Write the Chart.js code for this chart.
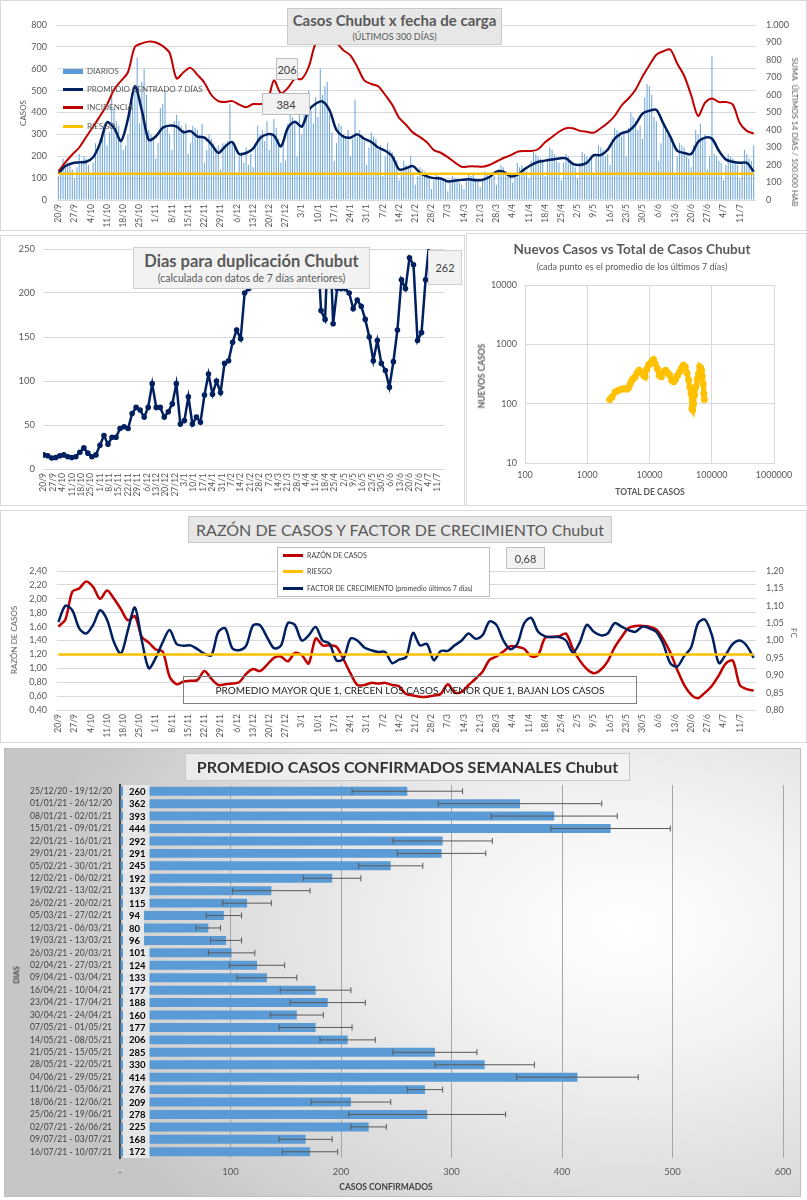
<!DOCTYPE html>
<html>
<head>
<meta charset="utf-8">
<title>Chubut</title>
<script src="https://cdn.jsdelivr.net/npm/chart.js@4.4.1/dist/chart.umd.min.js"></script>
<style>
  body { margin: 0; width: 807px; height: 1200px; position: relative; background: #fff; overflow: hidden;
         font-family: Lato, "Open Sans", sans-serif; color: #595959; }
  .frame { position: absolute; box-sizing: border-box; border: 1px solid #d9d9d9; }
  canvas { position: absolute; }
  .t { position: absolute; white-space: nowrap; transform: translate(-50%, -50%); line-height: 1; }
  .box { position: absolute; box-sizing: border-box; border: 1px solid #bfbfbf; background: #f2f2f2;
         display: flex; flex-direction: column; align-items: center; justify-content: center; white-space: nowrap; line-height: 1; }
  .li { position: absolute; display: flex; align-items: center; white-space: nowrap; line-height: 1; }
  .li span { display: inline-block; width: 20px; margin-right: 4px; }
</style>
</head>
<body>

<!-- 1: casos diarios -->
<div class="frame" style="left:0;top:0;width:807px;height:231px"></div>
<canvas id="cCasos" width="807" height="231" style="left:0;top:0"></canvas>
<div class="box" style="left:287px;top:8px;width:215px;height:37px;background:#e7e7e7;border-color:#c9c9c9">
  <div style="font-weight:700;font-size:15px">Casos Chubut x fecha de carga</div>
  <div style="font-size:9px;margin-top:4px">(ÚLTIMOS 300 DÍAS)</div>
</div>
<div class="li" style="left:63px;top:67px;font-size:8px"><span style="height:5px;background:#5b9bd5"></span>DIARIOS</div>
<div class="li" style="left:63px;top:85px;font-size:8px"><span style="height:3px;background:#002060"></span>PROMEDIO CENTRADO 7 DÍAS</div>
<div class="li" style="left:63px;top:103px;font-size:8px"><span style="height:3px;background:#c00000"></span>INCIDENCIA</div>
<div class="li" style="left:63px;top:122px;font-size:8px"><span style="height:3px;background:#ffc000"></span>RIESGO</div>
<div class="box" style="left:276px;top:58px;width:22px;height:22px;font-size:11px;color:#404040">206</div>
<div class="box" style="left:262px;top:93px;width:48px;height:22px;font-size:11px;color:#404040">384</div>
<div class="t" style="left:23px;top:113px;font-size:8px;transform:translate(-50%,-50%) rotate(-90deg)">CASOS</div>
<div class="t" style="left:795px;top:132px;font-size:8px;transform:translate(-50%,-50%) rotate(90deg)">SUMA&nbsp; ÚLTIMOS 14 DÍAS / 100.000 HAB</div>

<!-- 2: dias para duplicacion -->
<div class="frame" style="left:0;top:235px;width:465px;height:271px"></div>
<canvas id="cDup" width="465" height="272" style="left:0;top:234px"></canvas>
<div class="box" style="left:133px;top:247px;width:237px;height:42px;border-color:#d0d0d0">
  <div style="font-weight:700;font-size:16.5px">Dias para duplicación Chubut</div>
  <div style="font-size:10.5px;margin-top:4px">(calculada con datos de 7 días anteriores)</div>
</div>
<div class="box" style="left:428px;top:250px;width:34px;height:35px;border-color:#d0d0d0;font-size:11px;color:#404040">262</div>

<!-- 3: nuevos vs total -->
<div class="frame" style="left:466px;top:233px;width:341px;height:273px"></div>
<canvas id="cLog" width="339" height="272" style="left:468px;top:234px"></canvas>
<div class="t" style="left:632px;top:250px;font-size:13.5px;font-weight:700">Nuevos Casos vs Total de Casos Chubut</div>
<div class="t" style="left:632px;top:266px;font-size:9px">(cada punto es el promedio de los últimos 7 días)</div>
<div class="t" style="left:482px;top:376px;font-size:8.5px;font-weight:700;transform:translate(-50%,-50%) rotate(-90deg)">NUEVOS CASOS</div>
<div class="t" style="left:650px;top:492px;font-size:8.5px;font-weight:700">TOTAL DE CASOS</div>

<!-- 4: razon de casos y FC -->
<div class="frame" style="left:0;top:510px;width:807px;height:233px"></div>
<canvas id="cRazon" width="807" height="232" style="left:0;top:511px"></canvas>
<div class="box" style="left:188px;top:516px;width:424px;height:27px;background:#e7e7e7;border-color:#c9c9c9;font-size:16px">RAZÓN DE CASOS Y FACTOR DE CRECIMIENTO Chubut</div>
<div class="box" style="left:277px;top:547px;width:213px;height:50px;background:#fff"></div>
<div class="li" style="left:283px;top:552px;font-size:7px;color:#404040"><span style="height:3px;background:#c00000"></span>RAZÓN DE CASOS</div>
<div class="li" style="left:283px;top:568px;font-size:7px;color:#404040"><span style="height:3px;background:#ffc000"></span>RIESGO</div>
<div class="li" style="left:283px;top:585px;font-size:7px;color:#404040"><span style="height:3px;background:#002060"></span>FACTOR DE CRECIMIENTO (promedio últimos 7 días)</div>
<div class="box" style="left:506px;top:547px;width:39px;height:22px;font-size:11px;color:#404040">0,68</div>
<div class="box" style="left:183px;top:676px;width:454px;height:28px;background:transparent;border-color:#7f7f7f;font-size:10px;color:#1a1a1a">PROMEDIO MAYOR QUE 1, CRECEN LOS CASOS, MENOR QUE 1, BAJAN LOS CASOS</div>
<div class="t" style="left:14px;top:640px;font-size:8px;transform:translate(-50%,-50%) rotate(-90deg)">RAZÓN DE CASOS</div>
<div class="t" style="left:794px;top:633px;font-size:8px;transform:translate(-50%,-50%) rotate(90deg)">FC</div>

<!-- 5: promedio semanal -->
<div class="frame" style="left:4px;top:748px;width:797px;height:449px;border-color:#bfbfbf;
  background:radial-gradient(ellipse 75% 90% at 78% 40%, #ffffff 0%, #f3f3f3 30%, #d8d8d8 75%, #c6c6c6 100%)"></div>
<canvas id="cSemanal" width="795" height="447" style="left:5px;top:749px"></canvas>
<div class="box" style="left:185px;top:753px;width:445px;height:28px;background:rgba(245,245,245,0.7);border-color:#c9c9c9;font-size:16px;font-weight:700;color:#333">PROMEDIO CASOS CONFIRMADOS SEMANALES Chubut</div>
<div class="t" style="left:17px;top:975px;font-size:7.5px;font-weight:700;color:#404040;transform:translate(-50%,-50%) rotate(-90deg)">DIAS</div>
<div class="t" style="left:386px;top:1187px;font-size:8.5px;font-weight:700;color:#404040">CASOS CONFIRMADOS</div>

<script>
// etiquetas semanales del eje x (20/9/2020 = dia 0)
const ETIQUETAS_X = ['20/9','27/9','4/10','11/10','18/10','25/10','1/11','8/11','15/11','22/11','29/11',
  '6/12','13/12','20/12','27/12','3/1','10/1','17/1','24/1','31/1','7/2','14/2','21/2','28/2','7/3',
  '14/3','21/3','28/3','4/4','11/4','18/4','25/4','2/5','9/5','16/5','23/5','30/5','6/6','13/6',
  '20/6','27/6','4/7','11/7'];

// las series de lineas estan leidas cada 3 dias
const PASO = 3;

// casos diarios, una fila por semana
const DIARIOS = [
  110,130,190,150,170,160,140,
  100,150,210,180,200,190,160,
  120,170,260,240,280,300,330,
  250,310,480,420,360,340,280,
  230,250,300,420,450,500,650,
  350,540,600,480,320,300,280,
  190,260,420,440,500,330,300,
  230,360,390,360,340,320,350,
  210,260,340,330,320,300,350,
  170,230,300,280,260,240,250,
  140,260,260,270,440,260,260,
  120,200,220,170,240,160,210,
  150,260,340,300,320,270,360,
  230,300,370,330,280,170,260,
  180,350,410,380,360,200,430,
  300,420,470,500,410,350,470,
  380,600,480,520,540,390,310,
  180,260,350,340,300,280,320,
  200,280,460,290,320,300,270,
  160,240,310,290,280,230,250,
  110,200,260,230,220,200,180,
  90,130,180,160,150,200,120,
  70,110,150,140,130,120,100,
  50,90,120,110,100,100,90,
  40,80,110,100,90,80,70,
  50,90,120,110,120,100,90,
  60,90,130,120,110,100,110,
  70,140,160,150,130,110,120,
  80,120,170,150,160,140,130,
  100,180,220,210,200,190,180,
  110,190,240,230,210,180,170,
  90,170,210,200,180,160,150,
  100,170,220,210,200,180,190,
  120,200,250,240,230,200,210,
  160,280,330,320,310,290,310,
  200,330,400,380,360,320,340,
  280,470,530,520,480,380,360,
  180,260,340,320,300,280,250,
  120,200,260,250,240,200,190,
  150,250,320,300,350,280,300,
  140,200,660,210,200,180,170,
  90,160,210,200,190,170,160,
  100,170,230,210,190,180,250
];

const PROMEDIO_7D = [
  120,155,168,172,175,195,260,355,330,270,
  370,520,410,275,290,330,340,335,310,315,
  290,285,255,215,245,265,210,215,235,283,
  300,295,245,330,358,335,410,440,450,410,
  320,290,285,300,280,265,240,225,200,140,
  145,155,125,108,100,98,85,88,92,95,
  90,92,105,130,130,108,115,140,160,175,
  180,185,190,190,165,160,170,205,205,230,
  280,305,315,345,395,408,412,350,290,225,
  215,210,265,285,280,225,185,175,170,170,
  130
];

// suma ultimos 14 dias / 100.000 hab
const INCIDENCIA = [
  163,215,260,300,360,420,480,545,630,680,
  730,875,895,905,900,880,840,695,730,755,
  715,670,600,565,560,565,545,530,548,548,
  555,683,610,640,692,692,760,894,920,930,
  900,855,827,760,683,663,650,600,545,470,
  430,385,360,330,285,270,245,215,190,192,
  192,190,200,220,240,255,275,280,280,290,
  330,360,390,410,410,395,390,385,410,440,
  480,540,580,630,705,770,830,850,860,780,
  710,600,480,555,580,560,560,545,440,395,
  380
];
const RIESGO_INCIDENCIA = 150;

// dias para duplicacion (valores > 250 quedan fuera del grafico)
const DUPLICACION = [
  16,15,12.5,13,15,16,14,13,14,19,
  24,18,14,16,27,38,28,36,36,46,
  48,46,63,70,67,59,70,97,70,70,
  59,65,74,97,51,55,82,51,59,53,
  84,108,85,100,87,120,123,144,158,148,
  200,205,210,270,310,340,370,390,400,380,
  360,340,320,300,290,280,275,270,265,180,
  170,290,165,205,205,205,200,182,192,185,
  170,150,123,146,120,112,93,122,158,215,
  205,240,232,146,155,215,262
];

// nuevos casos vs total de casos
const TOTAL_CASOS = [2300,2500,2800,3100,3400,3700,4000,4300,4600,4900,
  5200,5500,5900,6300,6800,7400,8000,8500,9000,9600,
  10200,10900,11600,12400,13300,14300,15500,16800,18200,19700,
  21200,22800,24500,26300,28300,30500,32800,35000,37500,40000,
  42500,44500,46500,48000,49500,51000,53000,55500,58500,61500,
  64000,66500,68500,70500,72500,74500,76000];
const NUEVOS_CASOS = [117,130,158,165,173,176,180,175,185,215,
  249,265,283,330,367,340,300,283,380,446,
  476,520,556,470,392,300,283,350,367,330,
  300,249,233,260,302,344,400,446,418,330,
  250,190,148,83,78,100,140,192,260,323,
  418,400,367,290,218,148,117];
const DECADAS_X = [100, 1000, 10000, 100000, 1000000];
const DECADAS_Y = [10, 100, 1000, 10000];

const RAZON_CASOS = [
  1.60,1.70,2.10,2.15,2.25,2.17,2.00,2.12,2.00,1.85,
  1.69,1.75,1.45,1.37,1.27,1.24,0.88,0.77,0.81,0.82,
  0.83,0.96,0.85,0.76,0.77,0.78,0.80,0.92,0.99,0.96,
  1.05,1.15,1.17,1.10,1.22,1.19,1.07,1.43,1.33,1.33,
  1.31,1.13,0.93,0.76,0.76,0.79,0.78,0.79,0.76,0.74,
  0.63,0.61,0.59,0.59,0.61,0.63,0.77,0.65,0.66,0.76,
  0.85,0.95,1.12,1.17,1.24,1.32,1.31,1.28,1.17,1.19,
  1.44,1.45,1.46,1.50,1.28,1.11,0.99,0.93,0.98,1.10,
  1.30,1.45,1.58,1.61,1.61,1.60,1.56,1.42,1.23,0.98,
  0.76,0.62,0.57,0.65,0.75,0.90,1.07,1.11,0.76,0.70,
  0.68
];
const FACTOR_CRECIMIENTO = [
  1.053,1.100,1.087,1.035,1.020,1.045,1.087,1.060,0.995,0.962,
  1.030,1.095,1.000,0.920,0.950,0.995,1.030,0.990,0.985,0.986,
  0.975,0.962,0.957,1.025,1.035,0.978,0.972,0.985,1.044,1.044,
  1.010,0.978,0.985,1.050,1.045,1.000,1.015,1.039,1.000,0.991,
  0.943,0.947,1.005,1.000,0.980,0.972,0.967,0.967,0.935,0.945,
  0.952,1.022,0.986,0.990,0.943,0.970,0.970,0.986,1.000,1.020,
  1.005,1.015,1.055,1.045,1.000,0.975,0.990,1.050,1.065,1.025,
  1.012,1.010,1.010,1.000,0.965,0.995,1.045,1.025,1.015,1.020,
  1.050,1.040,1.030,1.025,1.040,1.035,1.025,0.990,0.935,0.925,
  0.955,0.980,1.050,1.060,1.015,0.935,0.960,0.990,1.000,0.985,
  0.950
];
const RIESGO_RAZON = 1.2;

// promedio semanal y desvio
const SEMANAS = ['25/12/20 - 19/12/20','01/01/21 - 26/12/20','08/01/21 - 02/01/21','15/01/21 - 09/01/21',
  '22/01/21 - 16/01/21','29/01/21 - 23/01/21','05/02/21 - 30/01/21','12/02/21 - 06/02/21',
  '19/02/21 - 13/02/21','26/02/21 - 20/02/21','05/03/21 - 27/02/21','12/03/21 - 06/03/21',
  '19/03/21 - 13/03/21','26/03/21 - 20/03/21','02/04/21 - 27/03/21','09/04/21 - 03/04/21',
  '16/04/21 - 10/04/21','23/04/21 - 17/04/21','30/04/21 - 24/04/21','07/05/21 - 01/05/21',
  '14/05/21 - 08/05/21','21/05/21 - 15/05/21','28/05/21 - 22/05/21','04/06/21 - 29/05/21',
  '11/06/21 - 05/06/21','18/06/21 - 12/06/21','25/06/21 - 19/06/21','02/07/21 - 26/06/21',
  '09/07/21 - 03/07/21','16/07/21 - 10/07/21'];
const PROMEDIO_SEMANAL = [260,362,393,444,292,291,245,192,137,115,94,80,96,101,124,133,177,188,160,177,
  206,285,330,414,276,209,278,225,168,172];
const DESVIO_SEMANAL = [50,74,57,54,45,40,29,26,35,22,16,11,14,21,25,27,32,34,24,33,
  25,38,45,55,16,36,71,16,24,25];

const FONT = "Lato, 'Open Sans', sans-serif";
Chart.defaults.font.family = FONT;
Chart.defaults.color = "#595959";
Chart.defaults.animation = false;

const GRID = "#d9d9d9";
const NAVY = "#002060";
const RED = "#c00000";
const YELLOW = "#ffc000";

const fixW = (w) => (s) => { s.width = w; };
const fixH = (h) => (s) => { s.height = h; };
const miles = (v) => String(v).replace(/\B(?=(\d{3})+(?!\d))/g, ".");
const coma = (v) => v.toFixed(2).replace(".", ",");
const serie = (arr) => arr.map((v, i) => ({ x: i * PASO, y: v }));
const noPlugins = { legend: { display: false }, tooltip: { enabled: false } };

function ejeDias(height, min, max) {
  return {
    type: "linear", min, max, offset: false,
    grid: { display: false, drawTicks: false },
    border: { display: false },
    afterBuildTicks: (s) => { s.ticks = ETIQUETAS_X.map((t, i) => ({ value: i * 7 })); },
    afterFit: fixH(height),
    ticks: { autoSkip: false, minRotation: 90, maxRotation: 90, padding: 4,
             font: { size: 8.5 }, color: "#595959", callback: (v, i) => ETIQUETAS_X[i] },
  };
}

// casos diarios
new Chart(document.getElementById("cCasos"), {
  type: "bar",
  data: {
    datasets: [
      { type: "bar", label: "DIARIOS", data: DIARIOS.map((v, i) => ({ x: i, y: v })), yAxisID: "yL",
        backgroundColor: "#6ea6da", barPercentage: 0.45, categoryPercentage: 1, order: 4 },
      { type: "line", label: "INCIDENCIA", data: serie(INCIDENCIA), yAxisID: "yR",
        borderColor: RED, borderWidth: 2, pointRadius: 0, tension: 0.3, order: 3 },
      { type: "line", label: "PROMEDIO CENTRADO 7 DÍAS", data: serie(PROMEDIO_7D), yAxisID: "yL",
        borderColor: NAVY, borderWidth: 2.5, pointRadius: 0, tension: 0.3, order: 2 },
      { type: "line", label: "RIESGO", data: [{ x: 0, y: RIESGO_INCIDENCIA }, { x: 300, y: RIESGO_INCIDENCIA }],
        yAxisID: "yR", borderColor: YELLOW, borderWidth: 2.5, pointRadius: 0, order: 1 },
    ],
  },
  options: {
    responsive: false,
    layout: { padding: { top: 25, left: 0, right: 0, bottom: 0 } },
    plugins: noPlugins,
    scales: {
      x: ejeDias(31, -0.6, 301),
      yL: { type: "linear", position: "left", min: 0, max: 800, afterFit: fixW(57),
            ticks: { stepSize: 100, padding: 10, font: { size: 9 } },
            grid: { color: GRID, drawTicks: false }, border: { display: false } },
      yR: { type: "linear", position: "right", min: 0, max: 1000, afterFit: fixW(51),
            ticks: { stepSize: 100, padding: 10, font: { size: 9 }, callback: miles },
            grid: { display: false, drawTicks: false }, border: { display: false } },
    },
  },
});

// dias para duplicacion
new Chart(document.getElementById("cDup"), {
  type: "line",
  data: {
    datasets: [{
      data: serie(DUPLICACION), borderColor: NAVY, backgroundColor: NAVY,
      borderWidth: 2.5, pointRadius: 2.8, pointBorderWidth: 0, tension: 0,
    }],
  },
  options: {
    responsive: false,
    layout: { padding: { top: 15, right: 20, left: 0, bottom: 0 } },
    plugins: noPlugins,
    scales: {
      x: ejeDias(37, -0.5, 299.5),
      y: { min: 0, max: 250, afterFit: fixW(43),
           ticks: { stepSize: 50, padding: 8, font: { size: 9.5 } },
           grid: { color: GRID, drawTicks: false }, border: { display: false } },
    },
  },
});

// nuevos casos vs total (log-log)
new Chart(document.getElementById("cLog"), {
  type: "scatter",
  data: {
    datasets: [{
      data: TOTAL_CASOS.map((t, i) => ({ x: t, y: NUEVOS_CASOS[i] })),
      showLine: true, borderColor: YELLOW, borderWidth: 5, backgroundColor: YELLOW,
      pointRadius: 3.5, pointBorderWidth: 0,
    }],
  },
  options: {
    responsive: false,
    layout: { padding: { top: 51, right: 33, left: 0, bottom: 0 } },
    plugins: noPlugins,
    scales: {
      x: { type: "logarithmic", min: 100, max: 1000000, afterFit: fixH(43),
           afterBuildTicks: (s) => { s.ticks = DECADAS_X.map((v) => ({ value: v })); },
           ticks: { padding: 7, font: { size: 9 }, callback: (v) => String(v) },
           grid: { color: GRID, drawTicks: false }, border: { color: GRID } },
      y: { type: "logarithmic", min: 10, max: 10000, afterFit: fixW(57),
           afterBuildTicks: (s) => { s.ticks = DECADAS_Y.map((v) => ({ value: v })); },
           ticks: { padding: 8, font: { size: 9 }, callback: (v) => String(v) },
           grid: { color: GRID, drawTicks: false }, border: { color: GRID } },
    },
  },
});

// razon de casos y factor de crecimiento
new Chart(document.getElementById("cRazon"), {
  type: "line",
  data: {
    datasets: [
      { label: "RAZÓN DE CASOS", data: serie(RAZON_CASOS), yAxisID: "yL",
        borderColor: RED, borderWidth: 2.5, pointRadius: 0, tension: 0.3, order: 3 },
      { label: "FACTOR DE CRECIMIENTO", data: serie(FACTOR_CRECIMIENTO), yAxisID: "yR",
        borderColor: NAVY, borderWidth: 2.5, pointRadius: 0, tension: 0.3, order: 2 },
      { label: "RIESGO", data: [{ x: 0, y: RIESGO_RAZON }, { x: 300, y: RIESGO_RAZON }], yAxisID: "yL",
        borderColor: YELLOW, borderWidth: 2.5, pointRadius: 0, order: 1 },
    ],
  },
  options: {
    responsive: false,
    layout: { padding: { top: 60, left: 0, right: 0, bottom: 0 } },
    plugins: noPlugins,
    scales: {
      x: ejeDias(33, -0.6, 301),
      yL: { type: "linear", position: "left", min: 0.4, max: 2.4, afterFit: fixW(57),
            ticks: { stepSize: 0.2, padding: 10, font: { size: 9 }, callback: coma },
            grid: { color: GRID, drawTicks: false }, border: { display: false } },
      yR: { type: "linear", position: "right", min: 0.8, max: 1.2, afterFit: fixW(51),
            ticks: { stepSize: 0.05, padding: 10, font: { size: 9 }, callback: coma },
            grid: { display: false, drawTicks: false }, border: { display: false } },
    },
  },
});

// barras de error + etiquetas de valor
const errorBars = {
  id: "errorBars",
  afterDatasetsDraw(chart) {
    const { ctx, scales: { x, y } } = chart;
    const meta = chart.getDatasetMeta(0);
    const rowH = (y.bottom - y.top) / PROMEDIO_SEMANAL.length;
    const x0 = x.getPixelForValue(0);
    ctx.save();
    meta.data.forEach((bar, i) => {
      const v = PROMEDIO_SEMANAL[i];
      const lo = x.getPixelForValue(v - DESVIO_SEMANAL[i]);
      const hi = x.getPixelForValue(v + DESVIO_SEMANAL[i]);
      ctx.strokeStyle = "#595959";
      ctx.lineWidth = 1;
      ctx.beginPath();
      ctx.moveTo(lo, bar.y); ctx.lineTo(hi, bar.y);
      ctx.moveTo(lo, bar.y - 3); ctx.lineTo(lo, bar.y + 3);
      ctx.moveTo(hi, bar.y - 3); ctx.lineTo(hi, bar.y + 3);
      ctx.stroke();

      const txt = String(v);
      ctx.font = `bold 9.5px ${FONT}`;
      const w = ctx.measureText(txt).width;
      ctx.fillStyle = "rgba(232,232,232,0.97)";
      ctx.fillRect(x0 + 3, bar.y - rowH / 2, w + 10, rowH);
      ctx.fillStyle = "#000";
      ctx.textBaseline = "middle";
      ctx.fillText(txt, x0 + 9, bar.y + 0.5);
    });
    ctx.restore();
  },
};

new Chart(document.getElementById("cSemanal"), {
  type: "bar",
  data: {
    labels: SEMANAS,
    datasets: [{ data: PROMEDIO_SEMANAL, backgroundColor: "#5b9bd5", barPercentage: 0.72, categoryPercentage: 1 }],
  },
  options: {
    responsive: false,
    indexAxis: "y",
    layout: { padding: { top: 36, right: 17, left: 0, bottom: 0 } },
    plugins: noPlugins,
    scales: {
      y: { afterFit: fixW(115),
           ticks: { padding: 8, font: { size: 8.5 }, color: "#404040", autoSkip: false },
           grid: { display: false, drawTicks: false }, border: { color: "#404040", width: 2 } },
      x: { min: 0, max: 600, afterFit: fixH(38),
           ticks: { stepSize: 100, padding: 8, font: { size: 9.5 }, callback: (v) => (v === 0 ? "-" : v) },
           grid: { color: "#a6a6a6", drawTicks: false }, border: { display: false } },
    },
  },
  plugins: [errorBars],
});
</script>
</body>
</html>
